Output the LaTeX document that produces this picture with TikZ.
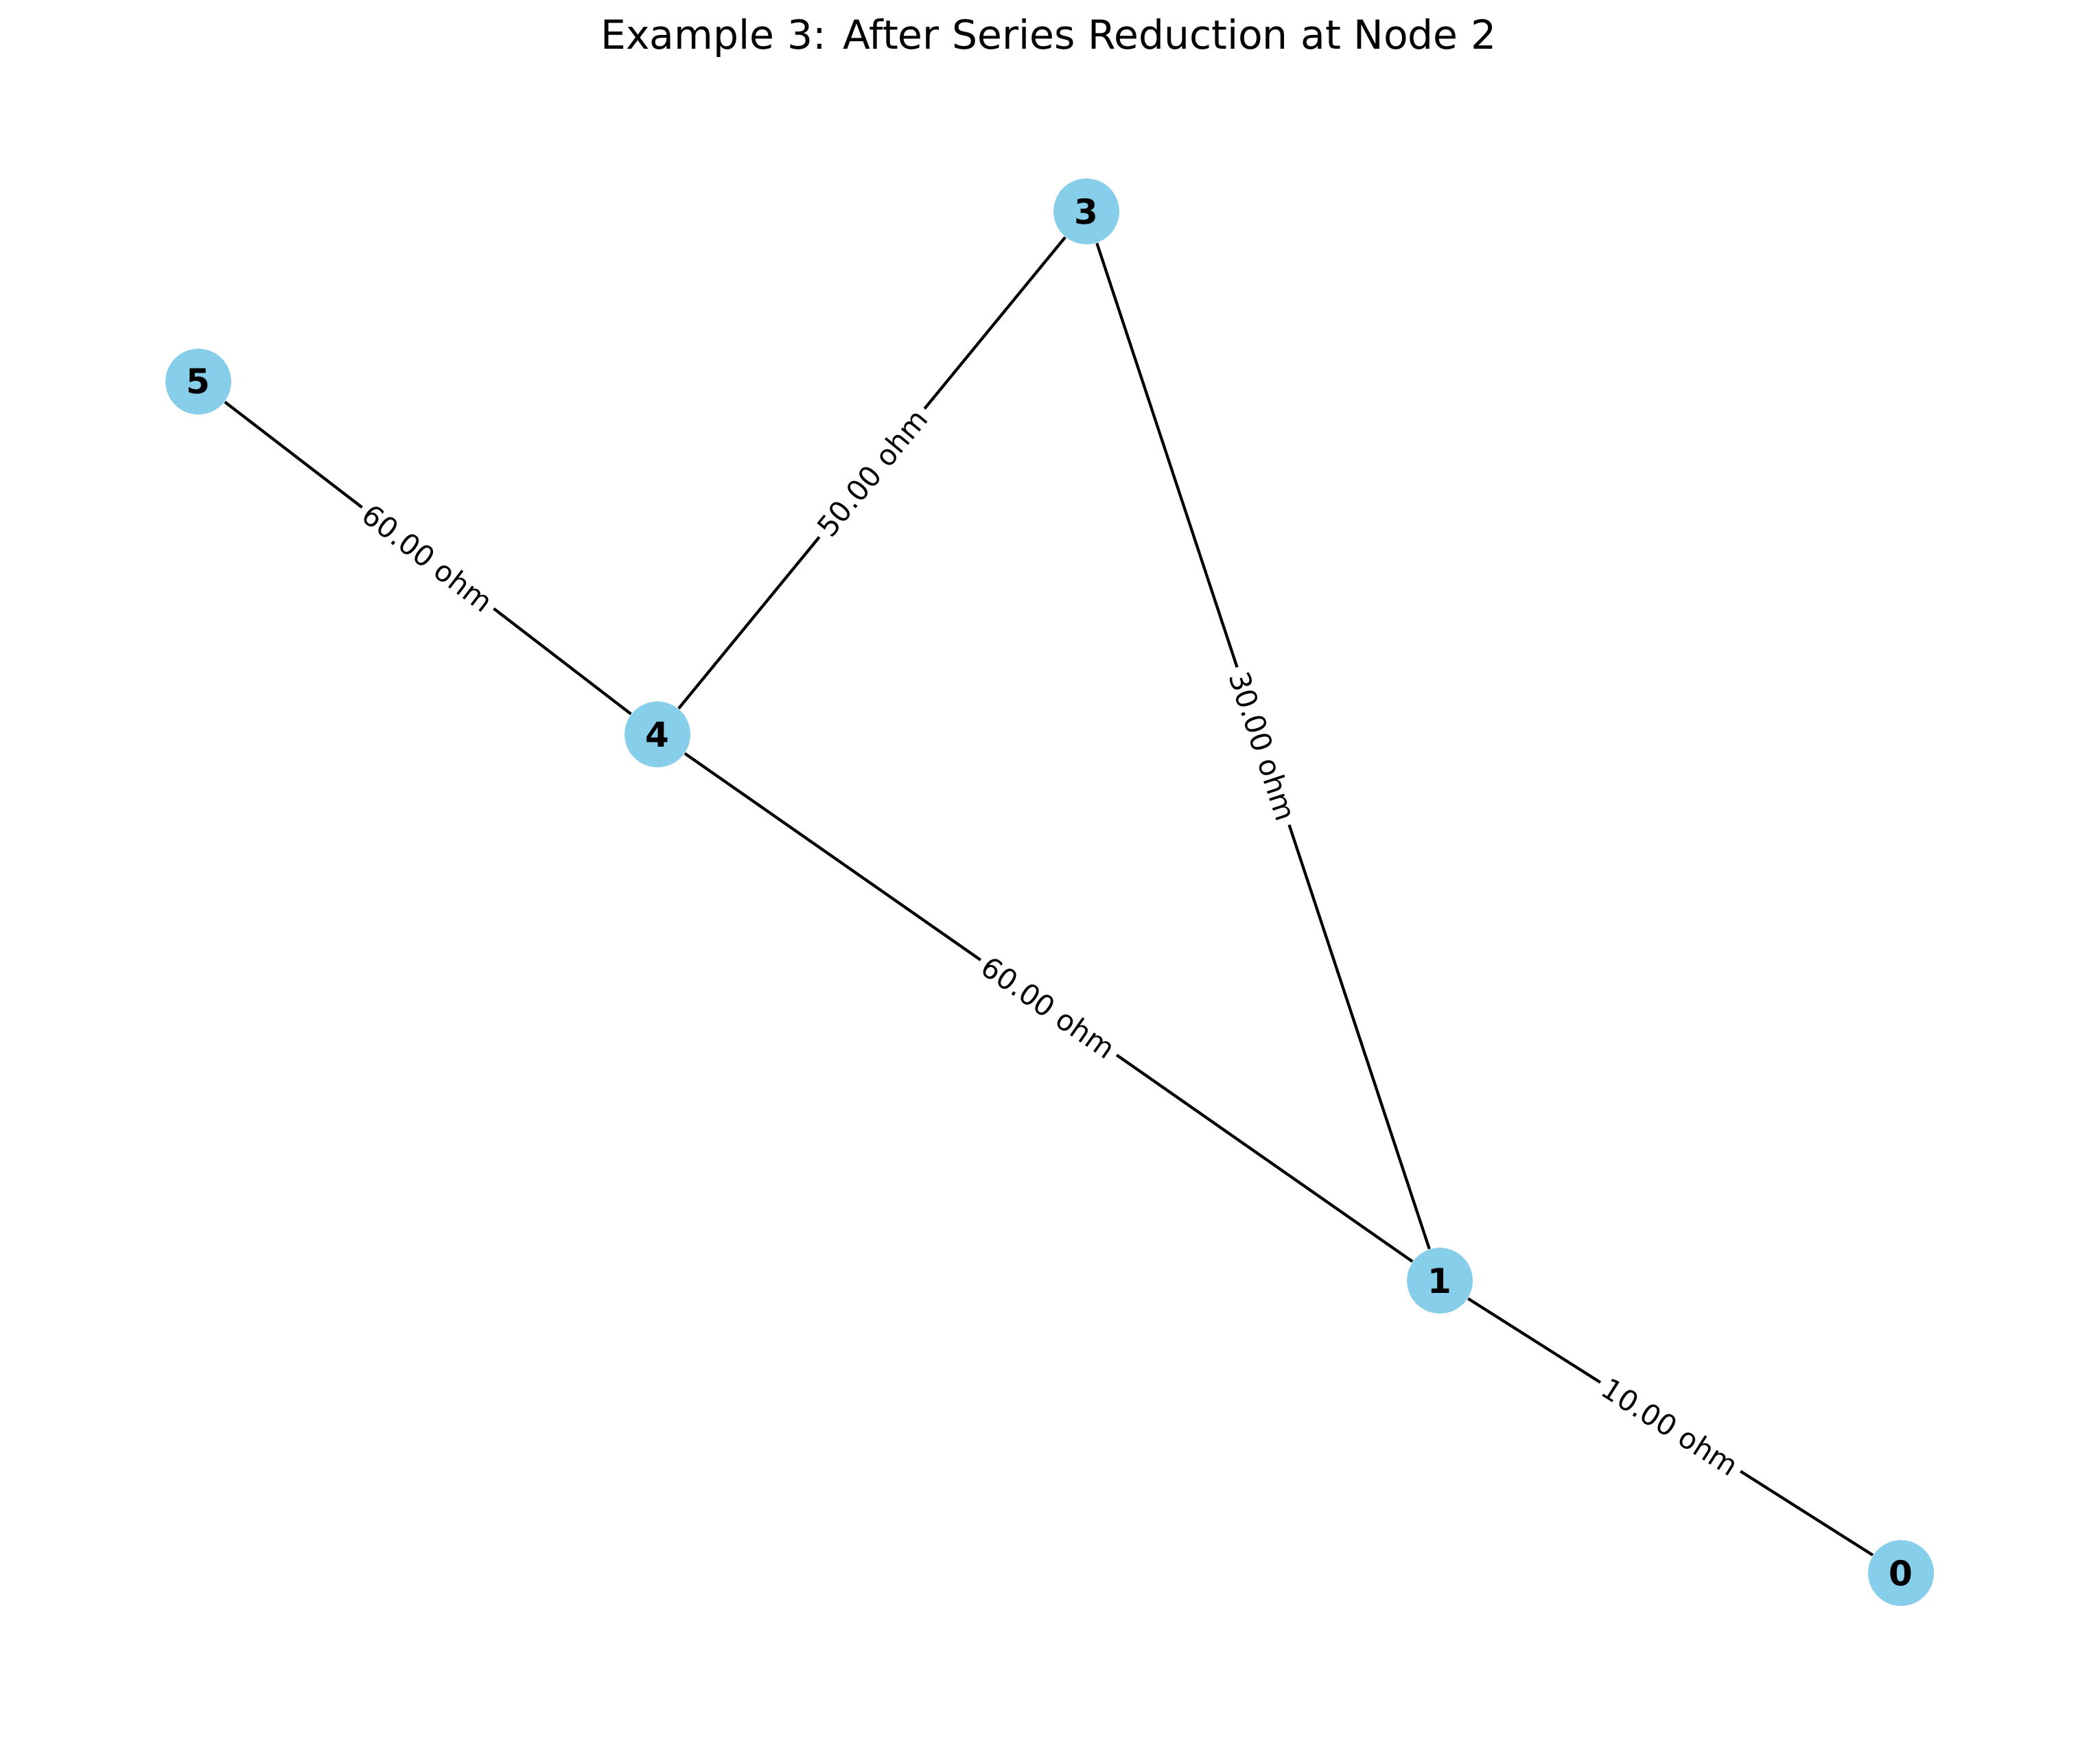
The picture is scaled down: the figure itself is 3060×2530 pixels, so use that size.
\documentclass[tikz,border=0pt]{standalone}
\usepackage{fontspec}
\setmainfont{DejaVu Sans}
\definecolor{skyblue}{HTML}{87CEEB}
\begin{document}
\begin{tikzpicture}[x=0.24pt,y=-0.24pt,
  vertex/.style={circle,fill=skyblue,minimum size=23pt,inner sep=0pt,font=\fontsize{12}{14}\selectfont\bfseries},
  edge/.style={line width=1pt,black},
  elabel/.style={fill=white,inner sep=2pt,sloped,pos=0.5,font=\fontsize{10}{12}\selectfont}]
\useasboundingbox (0,0) rectangle (3060,2530);
\node[font=\fontsize{14}{17}\selectfont] (title) at (1528,55) {Example 3: After Series Reduction at Node 2};
\node[vertex] (n3) at (1583,308) {3};
\node[vertex] (n5) at (289,556) {5};
\node[vertex] (n4) at (958,1070) {4};
\node[vertex] (n1) at (2098,1866) {1};
\node[vertex] (n0) at (2770,2292) {0};
\draw[edge] (n5) -- node[elabel] {60.00 ohm} (n4);
\draw[edge] (n4) -- node[elabel] {50.00 ohm} (n3);
\draw[edge] (n3) -- node[elabel] {30.00 ohm} (n1);
\draw[edge] (n4) -- node[elabel] {60.00 ohm} (n1);
\draw[edge] (n1) -- node[elabel] {10.00 ohm} (n0);
\end{tikzpicture}
\end{document}
